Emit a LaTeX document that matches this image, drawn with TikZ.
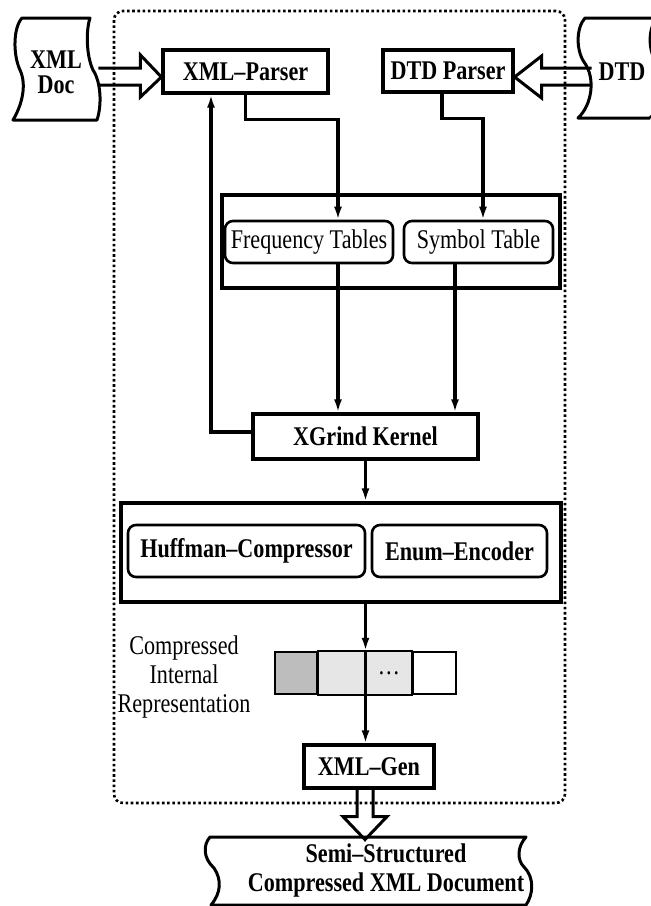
\documentclass[tikz,border=0pt]{standalone}
\usepackage{fontspec}
\setmainfont{Liberation Serif}[FakeStretch=0.82]
\usepackage{tikz}
\usetikzlibrary{arrows.meta}
\newcommand{\figfont}{\fontsize{27}{29}\selectfont}
\newcommand{\figbold}{\fontsize{27}{29}\selectfont\bfseries}
\definecolor{cdark}{HTML}{BDBDBD}
\definecolor{clite}{HTML}{E6E6E6}

\begin{document}
\begin{tikzpicture}[x=1pt,y=-1pt,
  box/.style={draw,line width=3.2pt,inner sep=0pt,font=\figbold},
  rbox/.style={draw,line width=2.6pt,rounded corners=8pt,inner sep=0pt,
    minimum height=42pt,font=\figfont},
  frame/.style={draw,line width=3.2pt,inner sep=0pt},
  cell/.style={draw,line width=2.4pt,inner sep=0pt,minimum height=42pt},
  link/.style={line width=3.2pt,-{Latex[length=13pt,width=8pt]}},
  fat/.style={line width=3pt,line join=miter},
  tape/.style={line width=3pt,line join=round}]
  \useasboundingbox (0,0) rectangle (651,906);

  % dotted outline of the compressor
  \node[draw,line width=2.6pt,dash pattern=on 2.6pt off 2.6pt,rounded corners=9pt,
    minimum width=451pt,minimum height=792pt] (engine) at (339.5,407) {};

  % parsers
  \node[box,minimum width=165pt,minimum height=43pt] (xmlp) at (245.5,71.5) {XML--Parser};
  \node[box,minimum width=130pt,minimum height=42pt] (dtdp) at (448,71) {DTD Parser};

  % tables
  \node[frame,minimum width=338pt,minimum height=93pt] (tables) at (391,241.5) {};
  \node[rbox,minimum width=168pt] (freq) at (309,242) {Frequency Tables};
  \node[rbox,minimum width=149pt] (sym) at (478.5,242) {Symbol Table};

  \node[box,minimum width=225pt,minimum height=45pt] (xgrind) at (365.5,436.5) {XGrind Kernel};

  % encoders
  \node[frame,minimum width=440pt,minimum height=99pt] (codec) at (341,552.5) {};
  \node[rbox,minimum width=237pt,minimum height=52pt,font=\figbold] (huff) at (246.5,551) {Huffman--Compressor};
  \node[rbox,minimum width=175pt,minimum height=52pt,font=\figbold] (enum) at (459.5,551) {Enum--Encoder};

  % internal representation
  \node[font=\figfont,align=center,inner sep=0pt] (crep) at (184,677)
    {\fontsize{27}{25.5}\selectfont Compressed\\Internal\\Representation};
  \node[cell,fill=cdark,minimum width=42pt] (cellA) at (296,673) {};
  \node[cell,fill=clite,draw=none,minimum width=48pt] (cellB) at (341,673) {};
  \node[cell,fill=clite,draw=none,minimum width=48pt,font=\figfont] (cellC) at (389,673) {\dots};
  \node[cell,minimum width=43pt] (cellD) at (434.5,673) {};
  \draw[line width=2.4pt] (cellA.north east) rectangle (cellD.south west);

  \node[box,minimum width=130pt,minimum height=43pt] (xmlgen) at (369,766.5) {XML--Gen};

  % documents
  \draw[tape] (22,18) -- (90,18) .. controls (86,30) and (86,55) .. (93,70)
    .. controls (101,82) and (102,105) .. (97,120) -- (13,120)
    .. controls (22,105) and (27,85) .. (20,70) .. controls (13,55) and (13,28) .. (22,18) -- cycle;
  \node[font=\fontsize{27}{25}\selectfont\bfseries,align=center,inner sep=0pt] (xmldoc) at (56,72) {XML\\Doc};

  \draw[tape] (657,18) -- (585,18) .. controls (576,28) and (576,50) .. (584,62)
    .. controls (596,78) and (592,105) .. (578,118) -- (650,118);
  \draw[tape] (657,18) .. controls (648,28) and (648,50) .. (656,62)
    .. controls (668,78) and (664,105) .. (650,118);
  \node[font=\figbold,inner sep=0pt] (dtddoc) at (622,72) {DTD};

  \draw[tape] (210,837) -- (526,837) .. controls (517,847) and (517,860) .. (524,867)
    .. controls (535,878) and (533,895) .. (526,905) -- (211,905)
    .. controls (221,893) and (222,880) .. (214,868) .. controls (203,858) and (203,845) .. (210,837) -- cycle;
  \node[font=\figbold,align=center,inner sep=0pt] (outdoc) at (386,870)
    {\fontsize{27}{26}\selectfont Semi--Structured\\Compressed XML Document};

  % hollow arrows
  \draw[fat] ([yshift=-5.5pt]xmlp.west) coordinate (t1) ++(-63,-9) -- ++(42,0) -- ++(0,-13)
    -- (t1) -- ++(-21,20) -- ++(0,-12) -- ++(-42,0);
  \draw[fat] ([yshift=-6pt]dtdp.east) coordinate (t2) ++(77,-9) -- ++(-50,0) -- ++(0,-12)
    -- (t2) -- ++(27,21) -- ++(0,-13) -- ++(50,0);
  \draw[fat] ([xshift=-12pt]xmlgen.south) -- ++(0,27) -- ++(-14,0) -- ++(22,23)
    -- ++(22,-23) -- ++(-14,0) -- ++(0,-27);

  % connectors
  \draw[link,{Latex[length=13pt,width=8pt]}-] ([xshift=-34.5pt]xmlp.south) |- ([yshift=4.5pt]xgrind.west);
  \draw[link] (xmlp.south) -- ++(0,25) -| ([xshift=29pt]freq.north);
  \draw[link] ([xshift=-6pt]dtdp.south) -- ++(0,25) -| ([xshift=4.5pt]sym.north);
  \draw[link] ([xshift=29pt]freq.south) -- ([xshift=29pt]freq.south |- xgrind.north);
  \draw[link] ([xshift=-23.5pt]sym.south) -- ([xshift=-23.5pt]sym.south |- xgrind.north);
  \draw[link] (xgrind.south) -- (xgrind.south |- codec.north);
  \draw[link] (xgrind.south |- codec.south) -- (xgrind.south |- cellC.north);
  \draw[link] (xgrind.south |- cellC.north) -- (xgrind.south |- xmlgen.north);
\end{tikzpicture}
\end{document}
